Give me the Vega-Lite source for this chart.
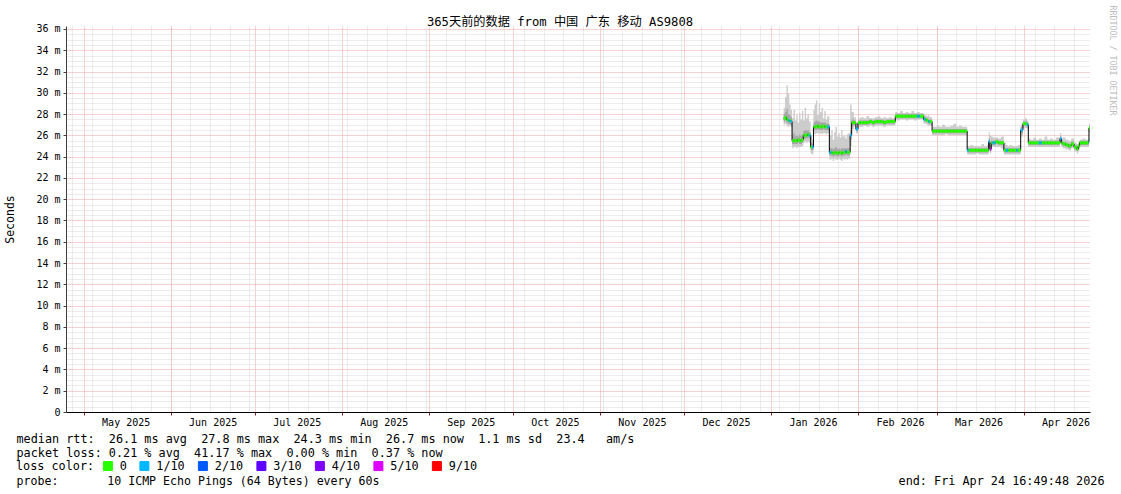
{
"$schema":"https://vega.github.io/schema/vega-lite/v6.json",
"width":1024,"height":386,
"autosize":{"type":"none"},
"padding":{"left":66,"top":26,"right":31,"bottom":82},
"background":"#ffffff",
"config":{"font":"DejaVu Sans Mono","view":{"stroke":null}},
"title":{"text":"365天前的数据 from 中国 广东 移动 AS9808","font":"DejaVu Sans Mono, Noto Sans CJK SC","fontSize":12.2,"fontWeight":"normal","color":"#000000","anchor":"middle","frame":"group","dx":-18,"dy":27,"offset":4},
"data":{"values":[
{"t":"2026-01-05T12:00","m":27.6,"lo":27.0,"hi":28.6,"a":27.3,"b":28.0,"l":"0"},
{"t":"2026-01-06T00:00","m":27.7,"lo":27.1,"hi":29.6,"a":27.4,"b":28.2,"l":"0"},
{"t":"2026-01-06T12:00","m":27.5,"lo":26.9,"hi":30.7,"a":27.2,"b":28.5,"l":"0"},
{"t":"2026-01-07T00:00","m":27.4,"lo":26.8,"hi":29.9,"a":27.1,"b":28.0,"l":"1/10"},
{"t":"2026-01-07T12:00","m":27.4,"lo":26.9,"hi":28.9,"a":27.1,"b":27.9,"l":"0"},
{"t":"2026-01-08T00:00","m":27.3,"lo":26.8,"hi":28.4,"a":27.0,"b":27.7,"l":"1/10"},
{"t":"2026-01-08T12:00","m":25.5,"lo":24.8,"hi":27.6,"a":25.2,"b":26.0,"l":"0"},
{"t":"2026-01-09T00:00","m":25.5,"lo":24.9,"hi":28.4,"a":25.2,"b":26.2,"l":"0"},
{"t":"2026-01-09T12:00","m":25.5,"lo":24.9,"hi":27.4,"a":25.2,"b":25.9,"l":"0"},
{"t":"2026-01-10T00:00","m":25.5,"lo":24.8,"hi":27.9,"a":25.2,"b":26.0,"l":"0"},
{"t":"2026-01-10T12:00","m":25.6,"lo":24.9,"hi":27.2,"a":25.3,"b":25.9,"l":"0"},
{"t":"2026-01-11T00:00","m":25.5,"lo":24.9,"hi":28.1,"a":25.2,"b":26.1,"l":"0"},
{"t":"2026-01-11T12:00","m":25.5,"lo":24.9,"hi":27.5,"a":25.2,"b":25.9,"l":"0"},
{"t":"2026-01-12T00:00","m":25.6,"lo":25.0,"hi":28.3,"a":25.3,"b":26.1,"l":"0"},
{"t":"2026-01-12T12:00","m":26.0,"lo":25.3,"hi":27.4,"a":25.7,"b":26.4,"l":"0"},
{"t":"2026-01-13T00:00","m":26.0,"lo":25.4,"hi":28.6,"a":25.7,"b":26.5,"l":"0"},
{"t":"2026-01-13T12:00","m":26.0,"lo":25.3,"hi":27.6,"a":25.7,"b":26.4,"l":"0"},
{"t":"2026-01-14T00:00","m":26.1,"lo":25.4,"hi":28.0,"a":25.8,"b":26.5,"l":"0"},
{"t":"2026-01-14T12:00","m":26.0,"lo":25.3,"hi":27.3,"a":25.7,"b":26.3,"l":"1/10"},
{"t":"2026-01-15T03:00","m":24.9,"lo":24.3,"hi":26.0,"a":24.6,"b":25.3,"l":"0"},
{"t":"2026-01-15T15:00","m":24.9,"lo":24.2,"hi":25.6,"a":24.6,"b":25.2,"l":"1/10"},
{"t":"2026-01-16T03:00","m":26.8,"lo":26.2,"hi":28.4,"a":26.5,"b":27.2,"l":"0"},
{"t":"2026-01-16T12:00","m":26.8,"lo":26.1,"hi":28.9,"a":26.5,"b":27.3,"l":"0"},
{"t":"2026-01-17T00:00","m":26.8,"lo":26.2,"hi":29.3,"a":26.5,"b":27.4,"l":"0"},
{"t":"2026-01-17T12:00","m":26.9,"lo":26.2,"hi":27.9,"a":26.6,"b":27.3,"l":"0"},
{"t":"2026-01-18T00:00","m":26.8,"lo":26.1,"hi":29.0,"a":26.5,"b":27.3,"l":"0"},
{"t":"2026-01-18T12:00","m":26.8,"lo":26.2,"hi":28.2,"a":26.5,"b":27.2,"l":"0"},
{"t":"2026-01-19T00:00","m":26.8,"lo":26.1,"hi":28.6,"a":26.5,"b":27.2,"l":"0"},
{"t":"2026-01-19T12:00","m":26.9,"lo":26.2,"hi":27.6,"a":26.6,"b":27.2,"l":"0"},
{"t":"2026-01-20T00:00","m":26.8,"lo":26.2,"hi":28.3,"a":26.5,"b":27.2,"l":"0"},
{"t":"2026-01-20T12:00","m":26.8,"lo":26.1,"hi":27.5,"a":26.5,"b":27.1,"l":"0"},
{"t":"2026-01-21T00:00","m":26.8,"lo":26.2,"hi":27.8,"a":26.5,"b":27.1,"l":"1/10"},
{"t":"2026-01-21T19:00","m":24.4,"lo":23.7,"hi":26.0,"a":24.1,"b":24.8,"l":"1/10"},
{"t":"2026-01-22T12:00","m":24.4,"lo":23.8,"hi":26.5,"a":24.1,"b":24.8,"l":"0"},
{"t":"2026-01-23T00:00","m":24.3,"lo":23.6,"hi":25.6,"a":24.0,"b":24.7,"l":"0"},
{"t":"2026-01-23T12:00","m":24.4,"lo":23.8,"hi":26.3,"a":24.1,"b":24.8,"l":"0"},
{"t":"2026-01-24T00:00","m":24.4,"lo":23.7,"hi":26.8,"a":24.1,"b":24.9,"l":"0"},
{"t":"2026-01-24T12:00","m":24.3,"lo":23.7,"hi":25.9,"a":24.0,"b":24.7,"l":"0"},
{"t":"2026-01-25T00:00","m":24.4,"lo":23.8,"hi":26.2,"a":24.1,"b":24.8,"l":"0"},
{"t":"2026-01-25T12:00","m":24.4,"lo":23.7,"hi":25.8,"a":24.1,"b":24.7,"l":"0"},
{"t":"2026-01-26T00:00","m":24.3,"lo":23.6,"hi":26.5,"a":24.0,"b":24.8,"l":"0"},
{"t":"2026-01-26T12:00","m":24.4,"lo":23.8,"hi":25.9,"a":24.1,"b":24.8,"l":"0"},
{"t":"2026-01-27T00:00","m":24.4,"lo":23.7,"hi":26.0,"a":24.1,"b":24.8,"l":"0"},
{"t":"2026-01-27T12:00","m":24.5,"lo":23.8,"hi":25.7,"a":24.2,"b":24.8,"l":"1/10"},
{"t":"2026-01-28T00:00","m":24.4,"lo":23.7,"hi":26.1,"a":24.1,"b":24.8,"l":"0"},
{"t":"2026-01-28T12:00","m":24.4,"lo":23.8,"hi":26.2,"a":24.1,"b":24.8,"l":"0"},
{"t":"2026-01-29T05:00","m":26.0,"lo":25.0,"hi":28.9,"a":25.6,"b":26.5,"l":"1/10"},
{"t":"2026-01-29T18:00","m":27.2,"lo":26.6,"hi":28.2,"a":26.9,"b":27.5,"l":"0"},
{"t":"2026-01-30T12:00","m":27.2,"lo":26.8,"hi":27.7,"a":27.0,"b":27.4,"l":"0"},
{"t":"2026-01-31T06:00","m":26.6,"lo":26.2,"hi":27.1,"a":26.4,"b":26.8,"l":"1/10"},
{"t":"2026-02-01T00:00","m":27.2,"lo":26.8,"hi":27.6,"a":27.0,"b":27.4,"l":"0"},
{"t":"2026-02-02T00:00","m":27.2,"lo":26.8,"hi":27.7,"a":27.0,"b":27.4,"l":"0"},
{"t":"2026-02-03T00:00","m":27.2,"lo":26.9,"hi":27.6,"a":27.0,"b":27.4,"l":"0"},
{"t":"2026-02-04T00:00","m":27.2,"lo":26.8,"hi":27.8,"a":27.0,"b":27.4,"l":"0"},
{"t":"2026-02-05T00:00","m":27.3,"lo":26.9,"hi":27.6,"a":27.1,"b":27.5,"l":"0"},
{"t":"2026-02-06T00:00","m":27.2,"lo":26.8,"hi":27.6,"a":27.0,"b":27.4,"l":"0"},
{"t":"2026-02-07T00:00","m":27.3,"lo":26.9,"hi":27.7,"a":27.1,"b":27.5,"l":"0"},
{"t":"2026-02-08T00:00","m":27.3,"lo":26.9,"hi":27.8,"a":27.1,"b":27.5,"l":"0"},
{"t":"2026-02-09T00:00","m":27.3,"lo":26.9,"hi":27.6,"a":27.1,"b":27.5,"l":"0"},
{"t":"2026-02-10T00:00","m":27.2,"lo":26.8,"hi":27.7,"a":27.0,"b":27.4,"l":"0"},
{"t":"2026-02-11T00:00","m":27.3,"lo":26.9,"hi":27.6,"a":27.1,"b":27.5,"l":"0"},
{"t":"2026-02-12T00:00","m":27.3,"lo":26.9,"hi":27.7,"a":27.1,"b":27.5,"l":"0"},
{"t":"2026-02-13T00:00","m":27.3,"lo":26.9,"hi":27.6,"a":27.1,"b":27.5,"l":"0"},
{"t":"2026-02-14T07:00","m":27.8,"lo":27.5,"hi":28.2,"a":27.6,"b":28.0,"l":"0"},
{"t":"2026-02-15T00:00","m":27.8,"lo":27.4,"hi":28.1,"a":27.6,"b":28.0,"l":"0"},
{"t":"2026-02-16T00:00","m":27.8,"lo":27.5,"hi":28.3,"a":27.6,"b":28.0,"l":"0"},
{"t":"2026-02-17T00:00","m":27.8,"lo":27.5,"hi":28.1,"a":27.6,"b":28.0,"l":"0"},
{"t":"2026-02-18T00:00","m":27.8,"lo":27.4,"hi":28.2,"a":27.6,"b":28.0,"l":"0"},
{"t":"2026-02-19T00:00","m":27.8,"lo":27.5,"hi":28.1,"a":27.6,"b":28.0,"l":"0"},
{"t":"2026-02-20T00:00","m":27.8,"lo":27.5,"hi":28.3,"a":27.6,"b":28.0,"l":"0"},
{"t":"2026-02-21T00:00","m":27.8,"lo":27.4,"hi":28.1,"a":27.6,"b":28.0,"l":"0"},
{"t":"2026-02-22T00:00","m":27.8,"lo":27.5,"hi":28.2,"a":27.6,"b":28.0,"l":"1/10"},
{"t":"2026-02-23T00:00","m":27.8,"lo":27.5,"hi":28.1,"a":27.6,"b":28.0,"l":"0"},
{"t":"2026-02-24T10:00","m":27.5,"lo":27.1,"hi":28.0,"a":27.3,"b":27.7,"l":"1/10"},
{"t":"2026-02-25T00:00","m":27.5,"lo":27.1,"hi":27.9,"a":27.3,"b":27.7,"l":"0"},
{"t":"2026-02-25T12:00","m":27.4,"lo":27.0,"hi":27.8,"a":27.2,"b":27.6,"l":"0"},
{"t":"2026-02-26T00:00","m":27.3,"lo":26.9,"hi":27.9,"a":27.1,"b":27.5,"l":"1/10"},
{"t":"2026-02-26T12:00","m":27.3,"lo":26.9,"hi":27.7,"a":27.1,"b":27.5,"l":"0"},
{"t":"2026-02-27T10:00","m":26.4,"lo":26.0,"hi":26.8,"a":26.2,"b":26.6,"l":"0"},
{"t":"2026-02-28T00:00","m":26.4,"lo":26.0,"hi":26.8,"a":26.2,"b":26.6,"l":"0"},
{"t":"2026-03-01T00:00","m":26.4,"lo":26.0,"hi":26.9,"a":26.2,"b":26.6,"l":"0"},
{"t":"2026-03-02T00:00","m":26.4,"lo":26.0,"hi":26.8,"a":26.2,"b":26.6,"l":"0"},
{"t":"2026-03-03T00:00","m":26.4,"lo":26.0,"hi":27.0,"a":26.2,"b":26.6,"l":"0"},
{"t":"2026-03-04T00:00","m":26.4,"lo":26.1,"hi":26.8,"a":26.2,"b":26.6,"l":"0"},
{"t":"2026-03-05T00:00","m":26.4,"lo":26.0,"hi":26.8,"a":26.2,"b":26.6,"l":"0"},
{"t":"2026-03-06T00:00","m":26.4,"lo":26.0,"hi":26.9,"a":26.2,"b":26.6,"l":"0"},
{"t":"2026-03-07T00:00","m":26.4,"lo":26.0,"hi":27.1,"a":26.2,"b":26.6,"l":"0"},
{"t":"2026-03-08T00:00","m":26.4,"lo":26.0,"hi":26.8,"a":26.2,"b":26.6,"l":"0"},
{"t":"2026-03-09T00:00","m":26.4,"lo":26.0,"hi":26.9,"a":26.2,"b":26.6,"l":"0"},
{"t":"2026-03-10T00:00","m":26.4,"lo":26.0,"hi":26.8,"a":26.2,"b":26.6,"l":"0"},
{"t":"2026-03-11T00:00","m":26.4,"lo":26.0,"hi":26.8,"a":26.2,"b":26.6,"l":"0"},
{"t":"2026-03-11T22:00","m":24.6,"lo":24.2,"hi":25.0,"a":24.4,"b":24.8,"l":"1/10"},
{"t":"2026-03-12T12:00","m":24.6,"lo":24.2,"hi":25.0,"a":24.4,"b":24.8,"l":"0"},
{"t":"2026-03-13T00:00","m":24.6,"lo":24.2,"hi":25.1,"a":24.4,"b":24.8,"l":"0"},
{"t":"2026-03-14T00:00","m":24.6,"lo":24.2,"hi":25.0,"a":24.4,"b":24.8,"l":"0"},
{"t":"2026-03-15T00:00","m":24.6,"lo":24.3,"hi":25.0,"a":24.4,"b":24.8,"l":"0"},
{"t":"2026-03-16T00:00","m":24.6,"lo":24.2,"hi":25.0,"a":24.4,"b":24.8,"l":"0"},
{"t":"2026-03-17T00:00","m":24.6,"lo":24.2,"hi":25.2,"a":24.4,"b":24.8,"l":"0"},
{"t":"2026-03-18T00:00","m":24.6,"lo":24.2,"hi":25.0,"a":24.4,"b":24.8,"l":"0"},
{"t":"2026-03-19T00:00","m":24.6,"lo":24.2,"hi":25.1,"a":24.4,"b":24.8,"l":"0"},
{"t":"2026-03-19T14:00","m":25.4,"lo":24.9,"hi":26.3,"a":25.1,"b":25.7,"l":"1/10"},
{"t":"2026-03-20T00:00","m":24.7,"lo":24.3,"hi":26.0,"a":24.5,"b":25.0,"l":"5/10"},
{"t":"2026-03-20T12:00","m":25.3,"lo":24.9,"hi":25.9,"a":25.1,"b":25.5,"l":"0"},
{"t":"2026-03-21T00:00","m":25.3,"lo":24.9,"hi":25.8,"a":25.1,"b":25.5,"l":"1/10"},
{"t":"2026-03-22T00:00","m":25.4,"lo":24.9,"hi":25.8,"a":25.2,"b":25.6,"l":"0"},
{"t":"2026-03-23T00:00","m":25.3,"lo":24.9,"hi":25.7,"a":25.1,"b":25.5,"l":"0"},
{"t":"2026-03-24T00:00","m":25.3,"lo":24.8,"hi":25.9,"a":25.1,"b":25.5,"l":"0"},
{"t":"2026-03-25T00:00","m":24.6,"lo":24.2,"hi":25.3,"a":24.4,"b":24.8,"l":"0"},
{"t":"2026-03-25T17:00","m":24.6,"lo":24.2,"hi":25.1,"a":24.4,"b":24.8,"l":"1/10"},
{"t":"2026-03-26T12:00","m":24.6,"lo":24.2,"hi":25.0,"a":24.4,"b":24.8,"l":"0"},
{"t":"2026-03-27T00:00","m":24.6,"lo":24.2,"hi":25.1,"a":24.4,"b":24.8,"l":"0"},
{"t":"2026-03-28T00:00","m":24.6,"lo":24.2,"hi":25.0,"a":24.4,"b":24.8,"l":"0"},
{"t":"2026-03-29T12:00","m":24.6,"lo":24.2,"hi":25.0,"a":24.4,"b":24.8,"l":"1/10"},
{"t":"2026-03-30T00:00","m":24.6,"lo":24.2,"hi":25.1,"a":24.4,"b":24.8,"l":"0"},
{"t":"2026-03-31T00:00","m":26.5,"lo":25.9,"hi":27.0,"a":26.2,"b":26.8,"l":"1/10"},
{"t":"2026-03-31T19:00","m":27.1,"lo":26.7,"hi":27.5,"a":26.9,"b":27.3,"l":"0"},
{"t":"2026-04-01T12:00","m":27.1,"lo":26.7,"hi":27.6,"a":26.9,"b":27.3,"l":"0"},
{"t":"2026-04-02T05:00","m":27.0,"lo":26.6,"hi":27.4,"a":26.8,"b":27.2,"l":"1/10"},
{"t":"2026-04-02T17:00","m":25.3,"lo":24.9,"hi":25.7,"a":25.1,"b":25.5,"l":"0"},
{"t":"2026-04-03T12:00","m":25.3,"lo":24.9,"hi":25.6,"a":25.1,"b":25.5,"l":"0"},
{"t":"2026-04-04T12:00","m":25.3,"lo":24.9,"hi":25.8,"a":25.1,"b":25.5,"l":"0"},
{"t":"2026-04-05T12:00","m":25.3,"lo":24.9,"hi":25.6,"a":25.1,"b":25.5,"l":"0"},
{"t":"2026-04-06T12:00","m":25.3,"lo":24.9,"hi":25.7,"a":25.1,"b":25.5,"l":"1/10"},
{"t":"2026-04-07T12:00","m":25.3,"lo":24.9,"hi":25.6,"a":25.1,"b":25.5,"l":"0"},
{"t":"2026-04-08T12:00","m":25.3,"lo":24.9,"hi":25.9,"a":25.1,"b":25.5,"l":"0"},
{"t":"2026-04-09T12:00","m":25.3,"lo":24.9,"hi":25.6,"a":25.1,"b":25.5,"l":"0"},
{"t":"2026-04-10T12:00","m":25.3,"lo":24.9,"hi":25.7,"a":25.1,"b":25.5,"l":"0"},
{"t":"2026-04-11T12:00","m":25.3,"lo":24.9,"hi":25.6,"a":25.1,"b":25.5,"l":"0"},
{"t":"2026-04-12T12:00","m":25.3,"lo":24.9,"hi":25.8,"a":25.1,"b":25.5,"l":"0"},
{"t":"2026-04-14T00:00","m":25.7,"lo":25.2,"hi":26.2,"a":25.5,"b":25.9,"l":"1/10"},
{"t":"2026-04-14T12:00","m":25.3,"lo":24.9,"hi":25.7,"a":25.1,"b":25.5,"l":"0"},
{"t":"2026-04-15T00:00","m":25.2,"lo":24.8,"hi":25.8,"a":25.0,"b":25.4,"l":"0"},
{"t":"2026-04-16T00:00","m":25.1,"lo":24.7,"hi":25.6,"a":24.9,"b":25.3,"l":"0"},
{"t":"2026-04-17T00:00","m":25.0,"lo":24.6,"hi":25.5,"a":24.8,"b":25.2,"l":"0"},
{"t":"2026-04-18T00:00","m":25.2,"lo":24.8,"hi":25.7,"a":25.0,"b":25.4,"l":"0"},
{"t":"2026-04-19T00:00","m":24.9,"lo":24.5,"hi":25.3,"a":24.7,"b":25.1,"l":"0"},
{"t":"2026-04-20T00:00","m":24.7,"lo":24.3,"hi":25.2,"a":24.5,"b":24.9,"l":"0"},
{"t":"2026-04-20T12:00","m":25.0,"lo":24.6,"hi":25.4,"a":24.8,"b":25.2,"l":"0"},
{"t":"2026-04-21T00:00","m":25.3,"lo":24.9,"hi":25.6,"a":25.1,"b":25.5,"l":"0"},
{"t":"2026-04-22T00:00","m":25.3,"lo":24.9,"hi":25.7,"a":25.1,"b":25.5,"l":"0"},
{"t":"2026-04-23T00:00","m":25.3,"lo":24.9,"hi":25.6,"a":25.1,"b":25.5,"l":"0"},
{"t":"2026-04-24T05:00","m":25.4,"lo":25.0,"hi":25.8,"a":25.2,"b":25.6,"l":"1/10"},
{"t":"2026-04-24T08:00","m":26.7,"lo":26.3,"hi":27.1,"a":26.5,"b":26.9,"l":"0"},
{"t":"2026-04-24T16:49:48","m":26.7,"lo":26.3,"hi":27.1,"a":26.5,"b":26.9,"l":"0"}
]},
"layer":[
{"mark":{"type":"area","interpolate":"step-after","color":"#cccccc"},
 "encoding":{
  "x":{"field":"t","type":"temporal","scale":{"domain":[{"year":2025,"month":4,"date":24,"hours":16,"minutes":49,"seconds":48},{"year":2026,"month":4,"date":24,"hours":16,"minutes":49,"seconds":48}]},
   "axis":{"orient":"bottom","tickCount":{"interval":"week","step":1},"grid":true,"gridColor":"#d9d9d9","gridDash":[1,1],"gridWidth":1,"labels":false,"ticks":false,"domain":false,
    "title":"probe:\u00a0\u00a0\u00a0\u00a0\u00a0\u00a0\u00a010 ICMP Echo Pings (64 Bytes) every 60s","titleX":-50,"titleY":63,"titleAlign":"left","titleBaseline":"top","titleFont":"DejaVu Sans Mono","titleFontSize":11.6,"titleFontWeight":"normal","titleColor":"#000000"}},
  "y":{"field":"lo","type":"quantitative","scale":{"domain":[0,36.28],"nice":false,"zero":false},
   "axis":{"orient":"left","values":[0.5,1,1.5,2.5,3,3.5,4.5,5,5.5,6.5,7,7.5,8.5,9,9.5,10.5,11,11.5,12.5,13,13.5,14.5,15,15.5,16.5,17,17.5,18.5,19,19.5,20.5,21,21.5,22.5,23,23.5,24.5,25,25.5,26.5,27,27.5,28.5,29,29.5,30.5,31,31.5,32.5,33,33.5,34.5,35,35.5],"grid":true,"gridColor":"#d9d9d9","gridDash":[1,1],"labels":false,"ticks":false,"domain":false,"title":null}},
  "y2":{"field":"hi"}}},
{"mark":{"type":"area","interpolate":"step-after","color":"#a6a6a6"},
 "encoding":{
  "x":{"field":"t","type":"temporal","scale":{"domain":[{"year":2025,"month":4,"date":24,"hours":16,"minutes":49,"seconds":48},{"year":2026,"month":4,"date":24,"hours":16,"minutes":49,"seconds":48}]},
   "axis":{"orient":"bottom","tickCount":{"interval":"month","step":1},"grid":true,"gridColor":"#f0a4a4","gridDash":[1,1],"labels":false,"ticks":true,"tickSize":3,"tickColor":"#802020","domain":false,"title":null}},
  "y":{"field":"a","type":"quantitative","scale":{"domain":[0,36.28],"nice":false,"zero":false},
   "axis":{"orient":"left","values":[0,2,4,6,8,10,12,14,16,18,20,22,24,26,28,30,32,34,36],"grid":true,"gridColor":"#f0a4a4","gridDash":[1,1],"labels":true,"labelExpr":"datum.value == 0 ? '0' : datum.value + ' m'","labelFont":"DejaVu Sans Mono","labelFontSize":10,"labelColor":"#000000","labelPadding":3,"ticks":true,"tickSize":3,"tickColor":"#404040","domain":true,"domainColor":"#404040","title":"Seconds","titleFont":"DejaVu Sans Mono","titleFontSize":11.5,"titleFontWeight":"normal","titleColor":"#000000","titleAngle":-90,"titleX":-56,"titleY":193,"titleAlign":"center","titleBaseline":"middle"}},
  "y2":{"field":"b"}}},
{"mark":{"type":"line","interpolate":"step-after","color":"#000000","strokeWidth":1},
 "encoding":{
  "x":{"field":"t","type":"temporal","scale":{"domain":[{"year":2025,"month":4,"date":24,"hours":16,"minutes":49,"seconds":48},{"year":2026,"month":4,"date":24,"hours":16,"minutes":49,"seconds":48}]},
   "axis":{"orient":"bottom","tickCount":{"interval":"month","step":1},"format":"%b %Y","labelOffset":42,"labelFlush":false,"labelOverlap":false,"labelFont":"DejaVu Sans Mono","labelFontSize":10,"labelColor":"#000000","labelPadding":5,"grid":false,"ticks":false,"domain":true,"domainColor":"#000000",
    "title":["median rtt:\u00a0\u00a026.1 ms avg\u00a0\u00a027.8 ms max\u00a0\u00a024.3 ms min\u00a0\u00a026.7 ms now\u00a0\u00a01.1 ms sd\u00a0\u00a023.4\u00a0\u00a0\u00a0am/s","packet loss: 0.21 % avg\u00a0\u00a041.17 % max\u00a0\u00a00.00 % min\u00a0\u00a00.37 % now"],
    "titleX":-50,"titleY":21,"titleAlign":"left","titleBaseline":"top","titleLineHeight":14,"titleFont":"DejaVu Sans Mono","titleFontSize":11.8,"titleFontWeight":"normal","titleColor":"#000000"}},
  "y":{"field":"m","type":"quantitative","scale":{"domain":[0,36.28],"nice":false,"zero":false},
   "axis":{"orient":"right","domain":false,"ticks":false,"labels":false,"grid":false,"title":"RRDTOOL / TOBI OETIKER","titleAngle":90,"titleX":21,"titleY":-21,"titleAlign":"left","titleBaseline":"middle","titleColor":"#bdbdbd","titleFont":"DejaVu Sans Mono","titleFontSize":8.3,"titleFontWeight":"normal"}}}},
{"transform":[{"window":[{"op":"lead","field":"t","as":"t2"}],"sort":[{"field":"t"}]},{"filter":"datum.t2 != null"}],
 "mark":{"type":"rule","strokeWidth":3},
 "encoding":{
  "x":{"field":"t","type":"temporal","scale":{"domain":[{"year":2025,"month":4,"date":24,"hours":16,"minutes":49,"seconds":48},{"year":2026,"month":4,"date":24,"hours":16,"minutes":49,"seconds":48}]},
   "axis":{"orient":"bottom","labels":false,"grid":false,"ticks":false,"domain":false,"title":"end: Fri Apr 24 16:49:48 2026","titleX":1038,"titleY":63,"titleAlign":"right","titleBaseline":"top","titleFont":"DejaVu Sans Mono","titleFontSize":11.8,"titleFontWeight":"normal","titleColor":"#000000"}},
  "x2":{"field":"t2"},
  "y":{"field":"m","type":"quantitative","scale":{"domain":[0,36.28],"nice":false,"zero":false},"axis":null},
  "color":{"field":"l","type":"nominal","scale":{"domain":["0","1/10","2/10","3/10","4/10","5/10","9/10"],"range":["#26ff00","#00b8ff","#0059ff","#5e00ff","#7e00ff","#dd00ff","#ff0000"]},
   "legend":{"orient":"none","legendX":-50,"legendY":434,"direction":"horizontal","title":"loss color:","titleOrient":"left","titleFont":"DejaVu Sans Mono","titleFontSize":11.8,"titleFontWeight":"normal","titleColor":"#000000","titlePadding":7,"labelFont":"DejaVu Sans Mono","labelFontSize":11.8,"labelColor":"#000000","labelOffset":6,"labelLimit":0,"symbolType":"square","symbolSize":81,"symbolStrokeColor":"#000000","symbolStrokeWidth":1,"columnPadding":10.5,"padding":0,
    "encode":{"symbols":{"update":{"fill":{"scale":"color","field":"value"},"fillOpacity":{"value":1},"stroke":{"value":"#000000"}}}}}}}}
],
"resolve":{"axis":{"x":"independent","y":"independent"}}
}
